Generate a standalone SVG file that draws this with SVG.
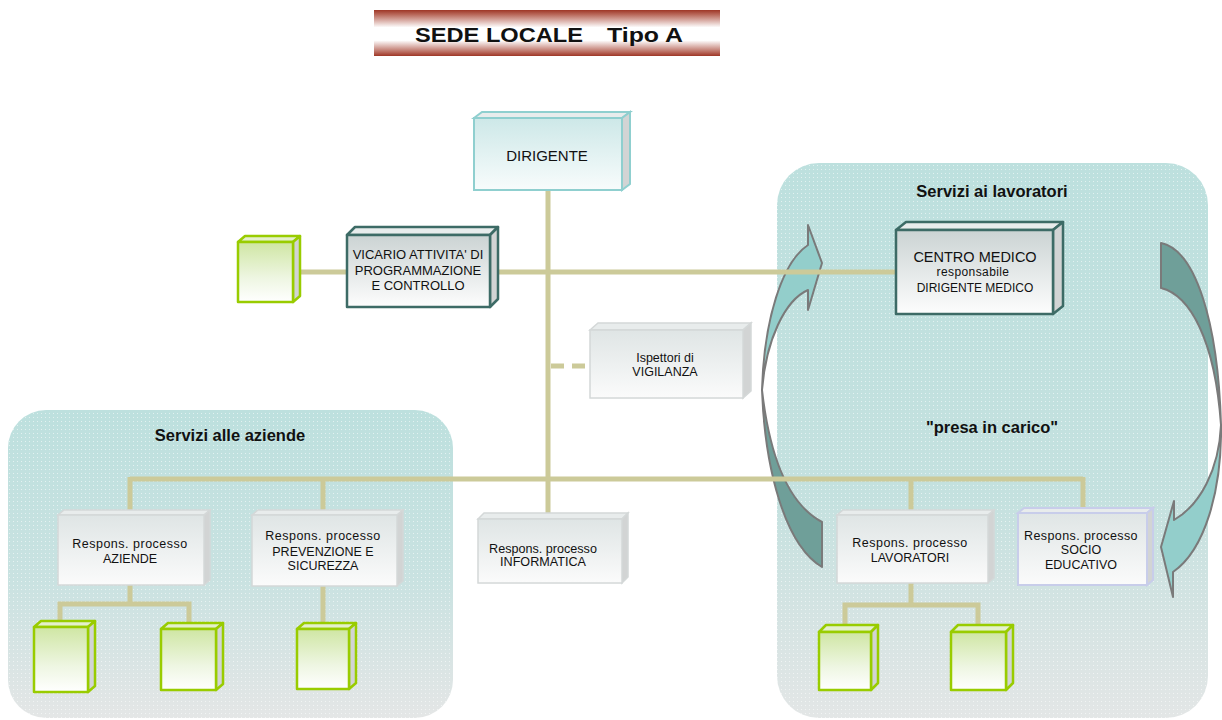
<svg xmlns="http://www.w3.org/2000/svg" width="1222" height="720" viewBox="0 0 1222 720">
<defs>
<linearGradient id="banner" x1="0" y1="0" x2="0" y2="1">
<stop offset="0" stop-color="#9e3626"/><stop offset="0.1" stop-color="#b9695b"/><stop offset="0.38" stop-color="#ffffff"/><stop offset="0.66" stop-color="#ffffff"/><stop offset="0.92" stop-color="#b8675a"/><stop offset="1" stop-color="#9e3626"/>
</linearGradient>
<linearGradient id="panelR" x1="0" y1="0" x2="0" y2="1">
<stop offset="0" stop-color="#bde0de"/><stop offset="0.6" stop-color="#c4e1df"/><stop offset="1" stop-color="#e3e6e6"/>
</linearGradient>
<linearGradient id="panelL" x1="0" y1="0" x2="0" y2="1">
<stop offset="0" stop-color="#bde0de"/><stop offset="0.55" stop-color="#c9e2e1"/><stop offset="1" stop-color="#e4e6e6"/>
</linearGradient>
<pattern id="dots" width="4" height="4" patternUnits="userSpaceOnUse">
<rect x="1" y="1" width="1" height="1" fill="#ffffff" opacity="0.55"/>
</pattern>
<linearGradient id="fGray" x1="0" y1="0" x2="0" y2="1">
<stop offset="0" stop-color="#dfe5e5"/><stop offset="1" stop-color="#fbfbfb"/>
</linearGradient>
<linearGradient id="fDark" x1="0" y1="0" x2="0" y2="1">
<stop offset="0" stop-color="#cbd3d3"/><stop offset="1" stop-color="#fdfdfd"/>
</linearGradient>
<linearGradient id="fTeal" x1="0" y1="0" x2="0" y2="1">
<stop offset="0" stop-color="#cde8e8"/><stop offset="1" stop-color="#f8fcfc"/>
</linearGradient>
<linearGradient id="fGreen" x1="0" y1="0" x2="0" y2="1">
<stop offset="0" stop-color="#cfe6a3"/><stop offset="0.6" stop-color="#eef6e2"/><stop offset="1" stop-color="#ffffff"/>
</linearGradient>
</defs>
<style>
.lbl{font-family:"Liberation Sans",Arial,sans-serif;fill:#111;text-anchor:middle}
.ttl{font-family:"Liberation Sans",Arial,sans-serif;font-weight:bold;fill:#111;text-anchor:middle;font-size:16.5px}
.con{fill:none;stroke:#ccca99;stroke-width:5}
.side{fill:#d2d4d4}
.top{fill:#e8ecec}
.gray rect,.gray polygon{stroke:#d4d8d8;stroke-width:1.5}
.gray rect{fill:url(#fGray)}
.dark rect,.dark polygon{stroke:#3d6b66;stroke-width:2.5;stroke-linejoin:round}
.dark rect{fill:url(#fDark)}
.teal rect,.teal polygon{stroke:#8fcfcf;stroke-width:2}
.teal rect{fill:url(#fTeal)}
.lav rect,.lav polygon{stroke:#c8cdea;stroke-width:2}
.lav rect{fill:url(#fGray)}
.green rect,.green polygon{stroke:#99cc00;stroke-width:2.5;stroke-linejoin:round}
.green rect{fill:url(#fGreen)}
.green .top{fill:#e4f0cc}
.arrL{fill:#93cecb;stroke:#7a7a7a;stroke-width:2;stroke-linejoin:round}
.arrD{fill:#6f9f99;stroke:#7a7a7a;stroke-width:2;stroke-linejoin:round}
</style>
<rect width="1222" height="720" fill="#ffffff"/>

<g id="title">
<rect x="374" y="10" width="346" height="46" fill="url(#banner)"/>
<text x="415" y="42" font-family="Liberation Sans,Arial,sans-serif" font-weight="bold" font-size="20.5" fill="#111" textLength="168" lengthAdjust="spacingAndGlyphs">SEDE LOCALE</text>
<text x="607" y="42" font-family="Liberation Sans,Arial,sans-serif" font-weight="bold" font-size="20.5" fill="#111" textLength="76" lengthAdjust="spacingAndGlyphs">Tipo A</text>
</g>

<g id="panel-aziende">
<rect x="8" y="410" width="445" height="308" rx="38" fill="url(#panelL)"/>
<rect x="8" y="410" width="445" height="308" rx="38" fill="url(#dots)"/>
<text class="ttl" x="230" y="441">Servizi alle aziende</text>
</g>
<g id="panel-lavoratori">
<rect x="777" y="163" width="431" height="555" rx="42" fill="url(#panelR)"/>
<rect x="777" y="163" width="431" height="555" rx="42" fill="url(#dots)"/>
<text class="ttl" x="992" y="197">Servizi ai lavoratori</text>
<text class="ttl" x="992" y="433">"presa in carico"</text>
</g>

<g id="arrow-left">
<path class="arrD" d="M822 522 C790 505 770 460 762 390 C765 470 785 545 822 567 Z"/>
<path class="arrL" d="M762 390 C764 320 782 262 808 245 L808 225 L822 263 L808 310 L808 290 C785 300 766 340 762 390 Z"/>
</g>
<g id="arrow-right">
<path class="arrD" d="M1161 243 C1195 250 1218 320 1221 425 C1215 340 1190 295 1161 288 Z"/>
<path class="arrL" d="M1221 425 C1219 470 1200 505 1174 520 L1174 501 L1161 547 L1173 597 L1173 572 C1205 550 1222 490 1221 425 Z"/>
</g>

<g id="connectors">
<path class="con" d="M548 190 V513"/>
<path class="con" d="M296 272 H896"/>
<path class="con" d="M551 366 H590" stroke-dasharray="13 8"/>
<path class="con" d="M130 479 H1083"/>
<path class="con" d="M130 477 V510 M323 477 V510 M911 477 V510 M1083 477 V508"/>
<path class="con" d="M130 585 V604 M60 621 V604 H189 V623 M323 586 V623"/>
<path class="con" d="M911 583 V605 M845 625 V605 H978 V625"/>
</g>

<g id="dirigente" class="teal">
<polygon class="top" points="474,118 482,112 630,112 622,118"/>
<polygon class="side" points="622,118 630,112 630,184 622,190"/>
<rect x="474" y="118" width="148" height="72"/>
<text class="lbl" x="547" y="161" font-size="15">DIRIGENTE</text>
</g>

<g id="vicario" class="dark">
<polygon class="top" points="347,235 355,227 498,227 490,235"/>
<polygon class="side" points="490,235 498,227 498,299 490,307"/>
<rect x="347" y="235" width="143" height="72"/>
<text class="lbl" font-size="13"><tspan x="418" y="259">VICARIO ATTIVITA' DI</tspan><tspan x="418" y="275">PROGRAMMAZIONE</tspan><tspan x="418" y="290">E CONTROLLO</tspan></text>
</g>

<g id="green-vicario" class="green">
<polygon class="top" points="238,242 245,236 300,236 293,242"/>
<polygon class="side" points="293,242 300,236 300,296 293,302"/>
<rect x="238" y="242" width="55" height="60"/>
</g>

<g id="centro-medico" class="dark">
<polygon class="top" points="896,230 906,222 1063,222 1053,230"/>
<polygon class="side" points="1053,230 1063,222 1063,306 1053,314"/>
<rect x="896" y="230" width="157" height="84"/>
<text class="lbl" x="975" y="262" font-size="14.5">CENTRO MEDICO</text>
<text class="lbl" x="973" y="276" font-size="12" letter-spacing="0.4">responsabile</text>
<text class="lbl" x="975" y="292" font-size="12">DIRIGENTE MEDICO</text>
</g>

<g id="ispettori" class="gray">
<polygon class="top" points="590,330 598,323 751,323 743,330"/>
<polygon class="side" points="743,330 751,323 751,391 743,398"/>
<rect x="590" y="330" width="153" height="68"/>
<text class="lbl" font-size="12.5"><tspan x="665" y="362">Ispettori di</tspan><tspan x="665" y="376">VIGILANZA</tspan></text>
</g>

<g id="aziende" class="gray">
<polygon class="top" points="58,515 64,510 210,510 204,515"/>
<polygon class="side" points="204,515 210,510 210,580 204,585"/>
<rect x="58" y="515" width="146" height="70"/>
<text class="lbl" font-size="12.5"><tspan x="130" y="548" letter-spacing="0.5">Respons. processo</tspan><tspan x="130" y="563">AZIENDE</tspan></text>
</g>

<g id="prevenzione" class="gray">
<polygon class="top" points="252,515 258,510 403,510 397,515"/>
<polygon class="side" points="397,515 403,510 403,581 397,586"/>
<rect x="252" y="515" width="145" height="71"/>
<text class="lbl" font-size="12.5"><tspan x="323" y="540" letter-spacing="0.5">Respons. processo</tspan><tspan x="323" y="556">PREVENZIONE E</tspan><tspan x="323" y="570">SICUREZZA</tspan></text>
</g>

<g id="informatica" class="gray">
<polygon class="top" points="478,519 484,513 628,513 622,519"/>
<polygon class="side" points="622,519 628,513 628,577 622,583"/>
<rect x="478" y="519" width="144" height="64"/>
<text class="lbl" font-size="12.6"><tspan x="543" y="553">Respons. processo</tspan><tspan x="543" y="566">INFORMATICA</tspan></text>
</g>

<g id="lavoratori" class="gray">
<polygon class="top" points="837,515 843,510 994,510 988,515"/>
<polygon class="side" points="988,515 994,510 994,578 988,583"/>
<rect x="837" y="515" width="151" height="68"/>
<text class="lbl" font-size="12.5"><tspan x="910" y="547" letter-spacing="0.5">Respons. processo</tspan><tspan x="910" y="562">LAVORATORI</tspan></text>
</g>

<g id="socio-educativo" class="lav">
<polygon class="top" points="1018,513 1024,508 1153,508 1147,513"/>
<polygon class="side" points="1147,513 1153,508 1153,580 1147,585"/>
<rect x="1018" y="513" width="129" height="72"/>
<text class="lbl" font-size="12.5"><tspan x="1081" y="540" letter-spacing="0.4">Respons. processo</tspan><tspan x="1081" y="554">SOCIO</tspan><tspan x="1081" y="569">EDUCATIVO</tspan></text>
</g>

<g id="green-aziende-1" class="green">
<polygon class="top" points="34,627 41,621 95,621 88,627"/>
<polygon class="side" points="88,627 95,621 95,686 88,692"/>
<rect x="34" y="627" width="54" height="65"/>
</g>
<g id="green-aziende-2" class="green">
<polygon class="top" points="161,629 168,623 223,623 216,629"/>
<polygon class="side" points="216,629 223,623 223,684 216,690"/>
<rect x="161" y="629" width="55" height="61"/>
</g>
<g id="green-prevenzione" class="green">
<polygon class="top" points="297,629 304,623 356,623 349,629"/>
<polygon class="side" points="349,629 356,623 356,683 349,689"/>
<rect x="297" y="629" width="52" height="60"/>
</g>
<g id="green-lavoratori-1" class="green">
<polygon class="top" points="819,632 826,625 878,625 871,632"/>
<polygon class="side" points="871,632 878,625 878,683 871,690"/>
<rect x="819" y="632" width="52" height="58"/>
</g>
<g id="green-lavoratori-2" class="green">
<polygon class="top" points="951,632 958,625 1013,625 1006,632"/>
<polygon class="side" points="1006,632 1013,625 1013,683 1006,690"/>
<rect x="951" y="632" width="55" height="58"/>
</g>
</svg>
